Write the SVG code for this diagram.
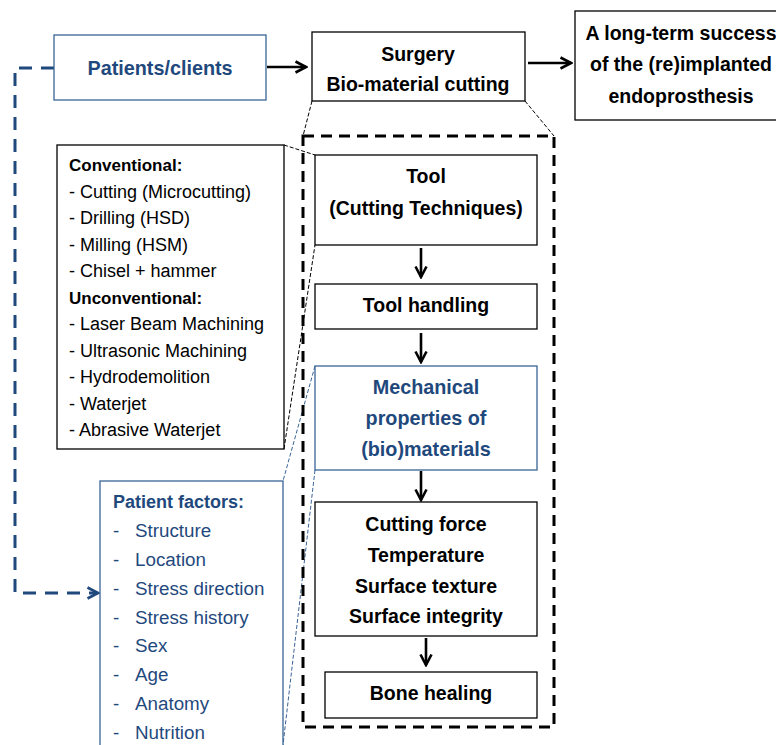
<svg xmlns="http://www.w3.org/2000/svg" width="776" height="745" viewBox="0 0 776 745">
<defs>
<style>
.box{fill:#fff;stroke:#000;stroke-width:1.3}
.bbox{fill:#fff;stroke:#3A6496;stroke-width:1.3}
.t{font-family:"Liberation Sans",Arial,sans-serif;font-weight:bold;font-size:19.5px;fill:#000;text-anchor:middle}
.tb{font-family:"Liberation Sans",Arial,sans-serif;font-weight:bold;font-size:19.8px;fill:#1F497D;text-anchor:middle}
.l{font-family:"Liberation Sans",Arial,sans-serif;font-size:18px;fill:#000}
.lh{font-family:"Liberation Sans",Arial,sans-serif;font-size:17px;font-weight:bold;fill:#000}
.p{font-family:"Liberation Sans",Arial,sans-serif;font-size:18.8px;fill:#1F497D}
.ph{font-family:"Liberation Sans",Arial,sans-serif;font-size:18px;font-weight:bold;fill:#1F497D}
.arr{fill:none;stroke:#000;stroke-width:2.6;marker-end:url(#ah)}
.zoom{fill:none;stroke:#000;stroke-width:1;stroke-dasharray:4 2}
.zoomb{fill:none;stroke:#3A6496;stroke-width:1;stroke-dasharray:4 2}
</style>
<marker id="ah" viewBox="0 0 14 14" refX="12" refY="7" markerWidth="14" markerHeight="14" markerUnits="userSpaceOnUse" orient="auto">
<path d="M1.5,1.5 L12,7 L1.5,12.5" fill="none" stroke="#000" stroke-width="2.6"/>
</marker>
<marker id="ahb" viewBox="0 0 14 14" refX="12" refY="7" markerWidth="14" markerHeight="14" markerUnits="userSpaceOnUse" orient="auto">
<path d="M1.5,1.5 L12,7 L1.5,12.5" fill="none" stroke="#1F497D" stroke-width="2.6"/>
</marker>
</defs>

<g id="connectors">
<line class="arr" x1="267" y1="67" x2="306" y2="67"/>
<line class="arr" x1="528" y1="63" x2="571" y2="63"/>
<line class="arr" x1="421" y1="248" x2="421" y2="277"/>
<line class="arr" x1="421" y1="333" x2="421" y2="362"/>
<line class="arr" x1="421" y1="471" x2="421" y2="500"/>
<line class="arr" x1="426" y1="638" x2="426" y2="665"/>
<polyline points="54,68 15,68 15,593 98,593" fill="none" stroke="#1F497D" stroke-width="3" stroke-dasharray="13 9" marker-end="url(#ahb)"/>
<line class="zoom" x1="312" y1="101" x2="303" y2="136"/>
<line class="zoom" x1="525" y1="101" x2="554" y2="136"/>
<line class="zoom" x1="284" y1="145" x2="315" y2="155"/>
<line class="zoom" x1="284" y1="449" x2="315" y2="245"/>
<line class="zoomb" x1="315" y1="366" x2="283" y2="481"/>
<line class="zoomb" x1="315" y1="470" x2="283" y2="745"/>
</g>

<g id="zoom-frame">
<rect x="303" y="136" width="251" height="591" fill="none" stroke="#000" stroke-width="3" stroke-dasharray="11 7"/>
</g>

<g id="patients">
<rect class="bbox" x="54" y="35" width="212" height="65"/>
<text class="tb" x="160" y="75" font-size="20.8">Patients/clients</text>
</g>

<g id="surgery">
<rect class="box" x="312" y="32" width="213" height="69"/>
<text class="t" x="418" y="61">Surgery</text>
<text class="t" x="418" y="91">Bio-material cutting</text>
</g>

<g id="success">
<rect class="box" x="575" y="11" width="215" height="109"/>
<text class="t" x="681" y="40" font-size="18.8">A long-term success</text>
<text class="t" x="681" y="71" font-size="18.8">of the (re)implanted</text>
<text class="t" x="681" y="103" font-size="18.8">endoprosthesis</text>
</g>

<g id="techniques">
<rect class="box" x="57" y="145" width="227" height="304"/>
<text class="lh" x="69" y="171">Conventional:</text>
<text class="l" x="69" y="197.5">- Cutting (Microcutting)</text>
<text class="l" x="69" y="224">- Drilling (HSD)</text>
<text class="l" x="69" y="250.5">- Milling (HSM)</text>
<text class="l" x="69" y="277">- Chisel + hammer</text>
<text class="lh" x="69" y="303.5">Unconventional:</text>
<text class="l" x="69" y="330">- Laser Beam Machining</text>
<text class="l" x="69" y="356.5">- Ultrasonic Machining</text>
<text class="l" x="69" y="383">- Hydrodemolition</text>
<text class="l" x="69" y="409.5">- Waterjet</text>
<text class="l" x="69" y="436">- Abrasive Waterjet</text>
</g>

<g id="tool">
<rect class="box" x="315" y="155" width="222" height="90"/>
<text class="t" x="426" y="183">Tool</text>
<text class="t" x="426" y="215">(Cutting Techniques)</text>
</g>

<g id="tool-handling">
<rect class="box" x="315" y="284" width="222" height="45"/>
<text class="t" x="426" y="312">Tool handling</text>
</g>

<g id="mechanical">
<rect class="bbox" x="315" y="366" width="222" height="104"/>
<text class="tb" x="426" y="394">Mechanical</text>
<text class="tb" x="426" y="425">properties of</text>
<text class="tb" x="426" y="456">(bio)materials</text>
</g>

<g id="outputs">
<rect class="box" x="315" y="502" width="222" height="134"/>
<text class="t" x="426" y="531">Cutting force</text>
<text class="t" x="426" y="562">Temperature</text>
<text class="t" x="426" y="593">Surface texture</text>
<text class="t" x="426" y="623">Surface integrity</text>
</g>

<g id="bone-healing">
<rect class="box" x="325" y="672" width="212" height="46"/>
<text class="t" x="431" y="700">Bone healing</text>
</g>

<g id="patient-factors">
<rect class="bbox" x="100" y="481" width="183" height="290"/>
<text class="ph" x="113" y="508">Patient factors:</text>
<g class="p">
<text x="113" y="537">-</text><text x="135" y="537">Structure</text>
<text x="113" y="566">-</text><text x="135" y="566">Location</text>
<text x="113" y="595">-</text><text x="135" y="595">Stress direction</text>
<text x="113" y="624">-</text><text x="135" y="624">Stress history</text>
<text x="113" y="652">-</text><text x="135" y="652">Sex</text>
<text x="113" y="681">-</text><text x="135" y="681">Age</text>
<text x="113" y="710">-</text><text x="135" y="710">Anatomy</text>
<text x="113" y="739">-</text><text x="135" y="739">Nutrition</text>
</g>
</g>
</svg>
